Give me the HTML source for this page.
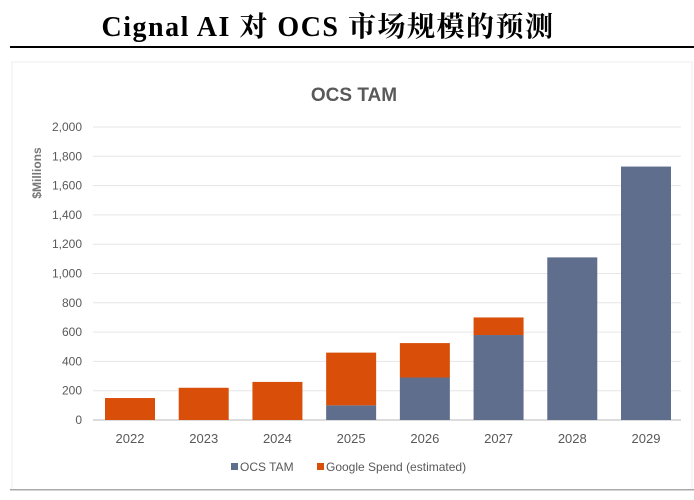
<!DOCTYPE html>
<html><head><meta charset="utf-8"><style>
body{margin:0;background:#fff;}
svg{display:block;}
</style></head><body>
<svg width="694" height="500" xmlns="http://www.w3.org/2000/svg">
<text x="328" y="36" text-anchor="middle" font-family="Liberation Serif, Noto Serif CJK SC, serif" font-weight="bold" font-size="28" letter-spacing="1.5" fill="#000">Cignal AI 对 OCS 市场规模的预测</text>
<rect x="10" y="46" width="684" height="2" fill="#000"/>
<rect x="12" y="62" width="680" height="428" fill="#fff" stroke="#eee"/>
<rect x="10" y="489" width="684" height="1.5" fill="#aaa"/>
<text x="354" y="101" text-anchor="middle" font-family="Liberation Sans, sans-serif" font-weight="bold" font-size="19" fill="#595959">OCS TAM</text>
<text transform="translate(41,173) rotate(-90)" text-anchor="middle" font-family="Liberation Sans, sans-serif" font-weight="bold" font-size="12" fill="#777">$Millions</text>
<g id="grid"></g><g id="bars"></g><g id="xl"></g>
<g font-family="Liberation Sans, sans-serif" font-size="12" fill="#595959">
<rect x="231" y="463" width="7" height="7" fill="#5f6e8c"/>
<text x="240" y="471">OCS TAM</text>
<rect x="317" y="463" width="7" height="7" fill="#d94f0a"/>
<text x="326" y="471">Google Spend (estimated)</text>
</g>
</svg>
<script>
const years=["2022","2023","2024","2025","2026","2027","2028","2029"];
const ocs=[0,0,0,100,290,580,1110,1730];
const google=[150,220,260,360,235,120,0,0];
const yTicks=[0,200,400,600,800,1000,1200,1400,1600,1800,2000];
const NS="http://www.w3.org/2000/svg";
const y=v=>420-v*(293/2000);
const x=i=>130+i*(516/7);
function mk(t,a,p){const e=document.createElementNS(NS,t);for(const k in a)e.setAttribute(k,a[k]);p.appendChild(e);return e;}
const g=document.getElementById('grid');
yTicks.forEach(v=>{
 const l=mk('line',{x1:93,x2:681,y1:y(v),y2:y(v),stroke:v===0?'#d0d0d0':'#e6e6e6','stroke-width':v===0?1.5:1},g);
 
 
 const t=mk('text',{x:82,y:y(v)+4,'text-anchor':'end','font-family':'Liberation Sans, sans-serif','font-size':12,fill:'#595959'},g);
 t.textContent=v.toLocaleString('en-US');
 
 
});
const b=document.getElementById('bars'),xl=document.getElementById('xl');
years.forEach((yr,i)=>{
 if(ocs[i]>0){const r=mk('rect',{x:x(i)-25,width:50,y:y(ocs[i]),height:y(0)-y(ocs[i]),fill:'#5f6e8c'},b);
  
  }
 if(google[i]>0){const r=mk('rect',{x:x(i)-25,width:50,y:y(ocs[i]+google[i]),height:y(ocs[i])-y(ocs[i]+google[i]),fill:'#d94f0a'},b);
  
  }
 const t=mk('text',{x:x(i),y:443,'text-anchor':'middle','font-family':'Liberation Sans, sans-serif','font-size':13,fill:'#595959'},xl);
 t.textContent=yr;
 
 
});
</script>
</body></html>
